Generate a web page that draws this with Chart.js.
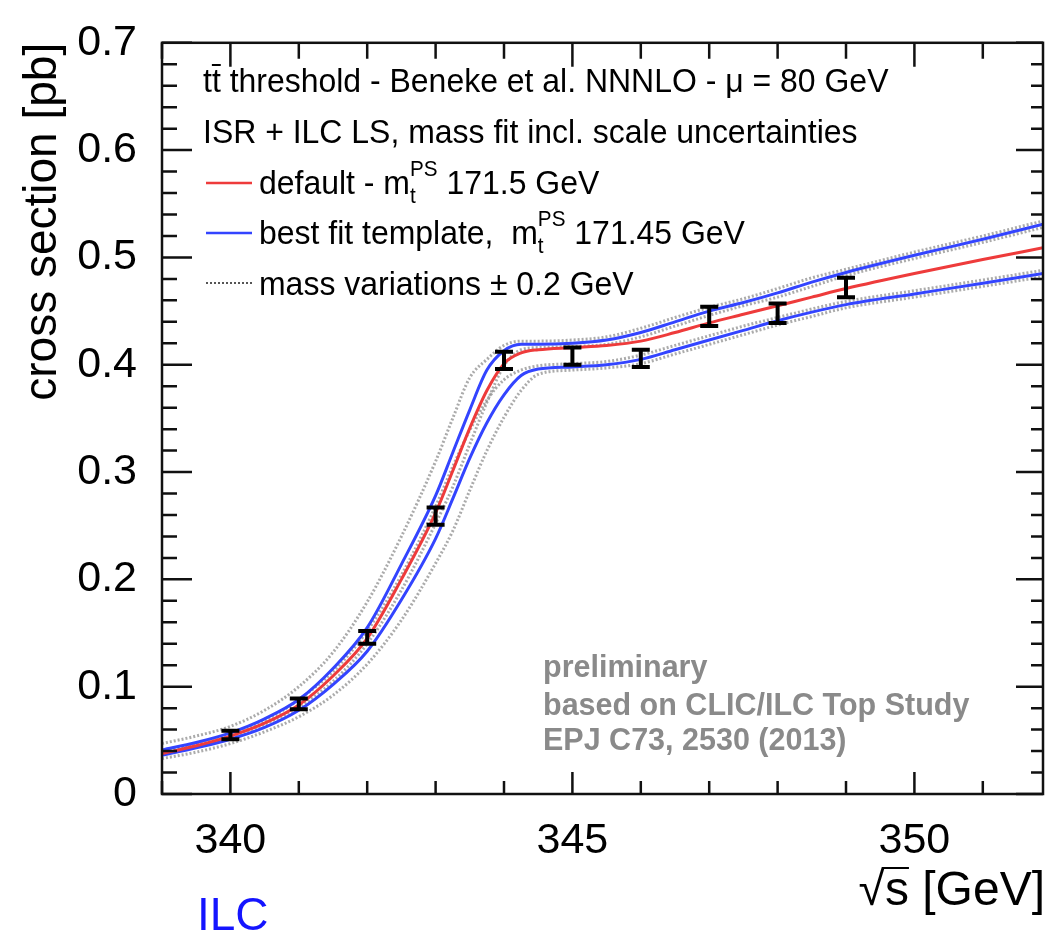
<!DOCTYPE html>
<html>
<head>
<meta charset="utf-8">
<script src="https://cdn.jsdelivr.net/npm/chart.js@4.4.1/dist/chart.umd.min.js"></script>
<style>
  html, body { margin: 0; padding: 0; background: #fff; }
  #wrap { width: 1053px; height: 934px; }
</style>
</head>
<body>
<div id="wrap"><canvas id="xsec" width="1053" height="934"></canvas></div>
<script>
/* tt threshold scan: cross section vs sqrt(s) */
const FONT = "'Liberation Sans', Arial, Helvetica, sans-serif";

// common sqrt(s) grid of the template curves [GeV]
const sqrtS = [339, 339.5, 340, 340.5, 341, 341.5, 342, 342.5, 343, 343.25, 343.5, 343.75,
  344, 344.25, 344.5, 345, 345.5, 346, 346.5, 347, 347.5, 348, 348.5, 349, 350, 351, 351.88];

// default template, m_t(PS) = 171.5 GeV  [pb]
const defaultXsec = [0.0375, 0.045, 0.054, 0.066, 0.083, 0.110, 0.145, 0.200, 0.262, 0.301, 0.341, 0.376,
  0.401, 0.411, 0.414, 0.416, 0.418, 0.422, 0.430, 0.439, 0.447, 0.455, 0.463, 0.471, 0.485, 0.498, 0.509];

// best fit template, upper / lower scale variation
const bestFitUp = [0.041, 0.048, 0.057, 0.070, 0.088, 0.117, 0.155, 0.214, 0.278, 0.318, 0.358, 0.395,
  0.413, 0.419, 0.419, 0.420, 0.423, 0.430, 0.440, 0.450, 0.458, 0.467, 0.477, 0.486, 0.502, 0.517, 0.531];
const bestFitDown = [0.036, 0.043, 0.051, 0.062, 0.078, 0.102, 0.133, 0.181, 0.238, 0.275, 0.313, 0.346,
  0.372, 0.390, 0.396, 0.398, 0.400, 0.405, 0.414, 0.423, 0.432, 0.441, 0.449, 0.456, 0.466, 0.476, 0.485];

// mass variations +-0.2 GeV around both best fit curves
const massUpOuter = [0.047, 0.054, 0.063, 0.078, 0.100, 0.132, 0.179, 0.240, 0.310, 0.350, 0.388, 0.405,
  0.418, 0.422, 0.422, 0.423, 0.426, 0.434, 0.444, 0.4535, 0.4615, 0.471, 0.481, 0.489, 0.505, 0.520, 0.534];
const massUpInner = [0.038, 0.045, 0.053, 0.065, 0.081, 0.105, 0.140, 0.190, 0.252, 0.286, 0.326, 0.365,
  0.399, 0.414, 0.416, 0.417, 0.419, 0.426, 0.436, 0.446, 0.455, 0.463, 0.473, 0.483, 0.499, 0.514, 0.528];
const massDownInner = [0.039, 0.046, 0.055, 0.068, 0.088, 0.114, 0.152, 0.204, 0.268, 0.305, 0.339, 0.367,
  0.386, 0.395, 0.399, 0.401, 0.403, 0.409, 0.418, 0.427, 0.436, 0.444, 0.452, 0.459, 0.469, 0.479, 0.488];
const massDownOuter = [0.033, 0.039, 0.047, 0.058, 0.072, 0.092, 0.121, 0.162, 0.215, 0.245, 0.283, 0.320,
  0.351, 0.376, 0.391, 0.395, 0.397, 0.401, 0.410, 0.419, 0.428, 0.437, 0.445, 0.453, 0.463, 0.473, 0.482];

// simulated scan points with statistical errors
const scanSqrtS = [340, 341, 342, 343, 344, 345, 346, 347, 348, 349];
const scanXsec  = [0.055, 0.084, 0.146, 0.259, 0.404, 0.408, 0.406, 0.445, 0.448, 0.472];
const scanErr   = [0.004, 0.005, 0.006, 0.008, 0.008, 0.008, 0.008, 0.009, 0.009, 0.009];

const xTickLabels = [340, 345, 350];
const yTickStep = 0.1;

const curve = ys => sqrtS.map((s, i) => ({ x: s, y: ys[i] }));

const RED = '#ee3b3b', BLUE = '#3344ff', GREY = 'rgba(115,115,115,0.6)';

function lineSet(label, ys, color, width, order, dash) {
  return {
    label, data: curve(ys), borderColor: color, borderWidth: width, borderDash: dash || [],
    pointRadius: 0, fill: false, cubicInterpolationMode: 'monotone', order
  };
}

const datasets = [
  lineSet('default', defaultXsec, RED, 3, 1),
  lineSet('best fit up', bestFitUp, BLUE, 3, 2),
  lineSet('best fit down', bestFitDown, BLUE, 3, 2),
  lineSet('mass +0.2 up', massUpOuter, GREY, 3, 3, [2, 2]),
  lineSet('mass -0.2 up', massUpInner, GREY, 3, 3, [2, 2]),
  lineSet('mass +0.2 down', massDownInner, GREY, 3, 3, [2, 2]),
  lineSet('mass -0.2 down', massDownOuter, GREY, 3, 3, [2, 2]),
  {
    label: 'scan', data: scanSqrtS.map((s, i) => ({ x: s, y: scanXsec[i] })),
    showLine: false, pointRadius: 0, order: 0
  }
];

// legend text is a little condensed
const LEG_FS = 34, LEG_SX = 0.94;
function legText(ctx, str, x, y, size) {
  ctx.save();
  ctx.translate(x, y);
  ctx.scale(LEG_SX, 1);
  ctx.font = `${size || LEG_FS}px ${FONT}`;
  ctx.fillText(str, 0, 0);
  const w = ctx.measureText(str).width * LEG_SX;
  ctx.restore();
  return w;
}

// ROOT-like frame: inward ticks on all sides, error bars, legend and annotations
const frameDeco = {
  id: 'frameDeco',
  afterDatasetsDraw(chart) {
    const { ctx, chartArea: a, scales: { x, y } } = chart;
    ctx.save();

    // error bars
    ctx.strokeStyle = '#000';
    ctx.lineWidth = 4;
    scanSqrtS.forEach((s, i) => {
      const px = x.getPixelForValue(s);
      const top = y.getPixelForValue(scanXsec[i] + scanErr[i]);
      const bot = y.getPixelForValue(scanXsec[i] - scanErr[i]);
      ctx.beginPath();
      ctx.moveTo(px, top); ctx.lineTo(px, bot);
      ctx.moveTo(px - 9, top); ctx.lineTo(px + 9, top);
      ctx.moveTo(px - 9, bot); ctx.lineTo(px + 9, bot);
      ctx.stroke();
    });

    // frame
    ctx.lineWidth = 2.5;
    ctx.strokeStyle = '#111';
    ctx.strokeRect(a.left, a.top, a.right - a.left, a.bottom - a.top);

    // y ticks (major every 0.1, minor every 0.02)
    ctx.beginPath();
    for (let k = 0; k <= 35; k++) {
      const py = y.getPixelForValue(k * 0.02);
      const len = k % 5 === 0 ? 30 : 15;
      ctx.moveTo(a.left, py); ctx.lineTo(a.left + len, py);
      ctx.moveTo(a.right, py); ctx.lineTo(a.right - len + 3, py);
    }
    // x ticks (major every 5 GeV, minor every GeV)
    for (let s = 339; s <= 351; s++) {
      const px = x.getPixelForValue(s);
      const major = s % 5 === 0;
      ctx.moveTo(px, a.bottom); ctx.lineTo(px, a.bottom - (major ? 22 : 13));
      ctx.moveTo(px, a.top); ctx.lineTo(px, a.top + (major ? 24 : 16));
    }
    ctx.stroke();

    // legend
    ctx.fillStyle = '#000';
    ctx.strokeStyle = '#000';
    ctx.textBaseline = 'alphabetic';
    ctx.textAlign = 'left';
    let tx = 203;
    tx += legText(ctx, 't', tx, 92);
    const tw = legText(ctx, 't', tx, 92);
    ctx.lineWidth = 2;
    ctx.beginPath(); ctx.moveTo(tx, 65); ctx.lineTo(tx + tw, 65); ctx.stroke();
    legText(ctx, ' threshold - Beneke et al. NNNLO - \u03bc = 80 GeV', tx + tw, 92);
    legText(ctx, 'ISR + ILC LS, mass fit incl. scale uncertainties', 203, 143);

    const mass = (pre, post, x0, base) => {
      let cx = x0 + legText(ctx, pre, x0, base);
      const small = Math.round(LEG_FS * 0.66);
      const supW = legText(ctx, 'PS', cx, base - 18, small);
      legText(ctx, 't', cx, base + 9, small);
      legText(ctx, post, cx + supW, base);
    };

    ctx.lineWidth = 2.5;
    ctx.strokeStyle = RED;
    ctx.beginPath(); ctx.moveTo(206, 183); ctx.lineTo(252, 183); ctx.stroke();
    mass('default - m', ' 171.5 GeV', 259, 194);

    ctx.strokeStyle = BLUE;
    ctx.beginPath(); ctx.moveTo(206, 233); ctx.lineTo(252, 233); ctx.stroke();
    mass('best fit template,  m', ' 171.45 GeV', 259, 244);

    ctx.strokeStyle = '#555';
    ctx.lineWidth = 1.8;
    ctx.setLineDash([2, 2]);
    ctx.beginPath(); ctx.moveTo(206, 283); ctx.lineTo(252, 283); ctx.stroke();
    ctx.setLineDash([]);
    legText(ctx, 'mass variations \u00b1 0.2 GeV', 259, 295);

    // study reference
    ctx.fillStyle = '#8a8a8a';
    ctx.font = `bold 30.5px ${FONT}`;
    ctx.fillText('preliminary', 543, 677);
    ctx.fillText('based on CLIC/ILC Top Study', 543, 715);
    ctx.fillText('EPJ C73, 2530 (2013)', 543, 750);

    // x axis title with radical
    ctx.fillStyle = '#000';
    ctx.font = `48px ${FONT}`;
    ctx.textAlign = 'right';
    const title = '\u221as [GeV]';
    ctx.fillText(title, 1045, 905);
    const tWidth = ctx.measureText(title).width;
    const rootW = ctx.measureText('\u221a').width;
    const sW = ctx.measureText('s').width;
    const rx = 1045 - tWidth + rootW - 2;
    ctx.strokeStyle = '#000';
    ctx.lineWidth = 2;
    ctx.beginPath(); ctx.moveTo(rx, 868); ctx.lineTo(rx + sW + 2, 868); ctx.stroke();

    // collider tag
    ctx.textAlign = 'left';
    ctx.fillStyle = '#1414ff';
    ctx.font = `46px ${FONT}`;
    ctx.fillText('ILC', 197, 930);

    ctx.restore();
  }
};

new Chart(document.getElementById('xsec'), {
  type: 'line',
  data: { datasets },
  options: {
    responsive: false,
    animation: false,
    devicePixelRatio: 1,
    layout: { padding: { top: 28, right: 10, left: 0, bottom: 0 } },
    plugins: { legend: { display: false }, tooltip: { enabled: false } },
    scales: {
      x: {
        type: 'linear', min: 339, max: 351.88,
        grid: { display: false }, border: { display: false },
        afterBuildTicks: s => { s.ticks = xTickLabels.map(v => ({ value: v })); },
        afterFit: s => { s.height = 140; },
        ticks: { color: '#000', padding: 13, font: { family: FONT, size: 43 } }
      },
      y: {
        min: 0, max: 0.7,
        grid: { display: false }, border: { display: false },
        afterFit: s => { s.width = 162; },
        ticks: { stepSize: yTickStep, color: '#000', padding: 17, font: { family: FONT, size: 43 } },
        title: {
          display: true, text: 'cross section [pb]', align: 'end', color: '#000',
          font: { family: FONT, size: 46 }, padding: { top: 16, bottom: 0 }
        }
      }
    }
  },
  plugins: [frameDeco]
});
</script>
</body>
</html>
